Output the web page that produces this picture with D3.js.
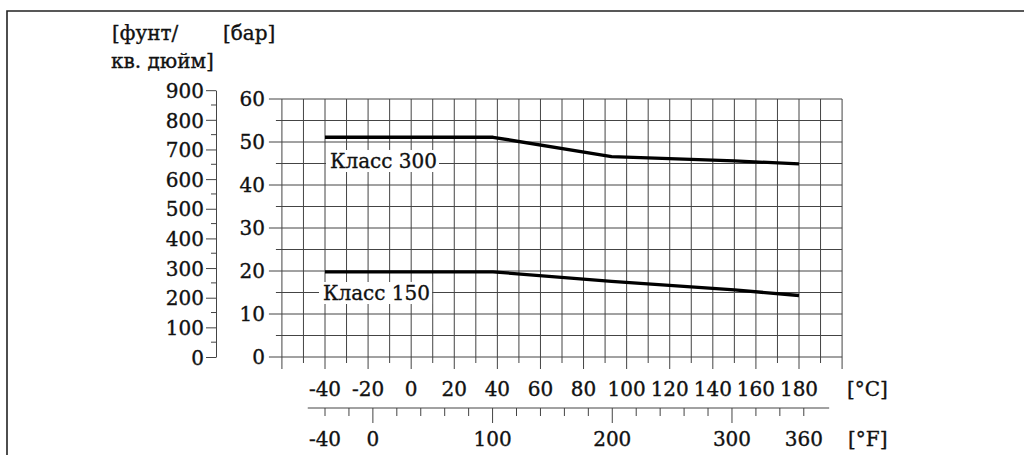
<!DOCTYPE html>
<html>
<head>
<meta charset="utf-8">
<script src="https://cdn.jsdelivr.net/npm/d3@7"></script>
<style>
  html, body { margin: 0; padding: 0; background: #fff; }
  svg { display: block; }
  text { font-family: "DejaVu Serif", serif; font-size: 20px; fill: #111; stroke: #111; stroke-width: 0.35px; }
</style>
</head>
<body>
<svg id="chart" width="1024" height="455"></svg>
<script>
// data (temperature in °C, pressure in bar)
const class300Temp = [-40, 38, 93, 150, 180];
const class300Bar  = [51.1, 51.1, 46.6, 45.6, 44.9];
const class150Temp = [-40, 38, 93, 150, 180];
const class150Bar  = [19.8, 19.8, 17.6, 15.6, 14.3];

const seriesLabels = ["Класс 300", "Класс 150"];

const celsiusLabels    = [-40, -20, 0, 20, 40, 60, 80, 100, 120, 140, 160, 180];
const fahrenheitLabels = [-40, 0, 100, 200, 300, 360];
const barLabels        = [0, 10, 20, 30, 40, 50, 60];
const psiLabels        = [0, 100, 200, 300, 400, 500, 600, 700, 800, 900];

const PSI_PER_BAR = 14.5038;
const fToC = f => (f - 32) * 5 / 9;

const svg = d3.select("#chart");

// scales
const xC = d3.scaleLinear().domain([-40, 180]).range([325, 799]);
const yBar = d3.scaleLinear().domain([0, 60]).range([357, 99]);
const yPsi = d3.scaleLinear().domain([0, 900])
  .range([yBar(0), yBar(900 / PSI_PER_BAR)]);
const xF = d3.scaleLinear().domain([-40, 360])
  .range([xC(fToC(-40)), xC(fToC(360))]);

// frame
svg.append("path")
  .attr("d", "M7,455V11H1024")
  .attr("fill", "none")
  .attr("stroke", "#222")
  .attr("stroke-width", 1.6);

// grid
const grid = svg.append("g").attr("stroke", "#444").attr("stroke-width", 1);
d3.range(-60, 201, 10).forEach(t => {
  const major = t % 20 === 0;
  grid.append("line")
    .attr("x1", xC(t)).attr("x2", xC(t))
    .attr("y1", yBar(60)).attr("y2", yBar(0) + (major ? 12 : 6));
});
d3.range(0, 61, 5).forEach(b => {
  const major = b % 10 === 0;
  grid.append("line")
    .attr("x1", xC(-60) - (major ? 13 : 6)).attr("x2", xC(200))
    .attr("y1", yBar(b)).attr("y2", yBar(b));
});

// bar tick labels
svg.append("g").selectAll("text")
  .data(barLabels)
  .join("text")
  .attr("x", 265)
  .attr("y", d => yBar(d))
  .attr("dy", "0.36em")
  .attr("text-anchor", "end")
  .text(d => d);

// psi axis
const psiAxis = svg.append("g")
  .attr("transform", "translate(216,0)")
  .call(d3.axisLeft(yPsi).tickValues(psiLabels).tickSize(10).tickSizeOuter(0).tickPadding(2));
psiAxis.selectAll("text").attr("font-size", null).attr("font-family", null).attr("fill", null).attr("dy", "0.36em");
psiAxis.attr("font-size", null).attr("font-family", null);
psiAxis.selectAll("path, line").attr("stroke", "#444");
psiAxis.append("g").selectAll("line")
  .data(d3.range(50, 900, 100))
  .join("line")
  .attr("x1", -5).attr("x2", 0)
  .attr("y1", d => yPsi(d)).attr("y2", d => yPsi(d))
  .attr("stroke", "#444");

// celsius labels
svg.append("g").selectAll("text")
  .data(celsiusLabels)
  .join("text")
  .attr("x", d => xC(d))
  .attr("y", 396)
  .attr("text-anchor", "middle")
  .text(d => d);

// fahrenheit axis
const fY = 408;
svg.append("line")
  .attr("x1", xC(-48)).attr("x2", xC(194))
  .attr("y1", fY).attr("y2", fY)
  .attr("stroke", "#444");
svg.append("g").selectAll("line")
  .data(d3.range(-40, 361, 20))
  .join("line")
  .attr("x1", d => xF(d)).attr("x2", d => xF(d))
  .attr("y1", fY)
  .attr("y2", d => fY + (d % 100 === 0 ? 15 : 8))
  .attr("stroke", "#444");
svg.append("g").selectAll("text")
  .data(fahrenheitLabels)
  .join("text")
  .attr("x", d => xF(d))
  .attr("y", 446)
  .attr("text-anchor", "middle")
  .text(d => d);

// unit labels
svg.append("text").attr("x", 847).attr("y", 396).text("[°C]");
svg.append("text").attr("x", 848).attr("y", 446).text("[°F]");
svg.append("text").attr("x", 112).attr("y", 40).text("[фунт/");
svg.append("text").attr("x", 111).attr("y", 68).text("кв. дюйм]");
svg.append("text").attr("x", 223).attr("y", 40).text("[бар]");

// pressure curves
const line = d3.line()
  .x(d => xC(d[0]))
  .y(d => yBar(d[1]));

const curves = [
  { pts: d3.zip(class300Temp, class300Bar), label: seriesLabels[0], lx: 330, ly: 168 },
  { pts: d3.zip(class150Temp, class150Bar), label: seriesLabels[1], lx: 323, ly: 300 }
];

curves.forEach(c => {
  svg.append("path")
    .datum(c.pts)
    .attr("d", line)
    .attr("fill", "none")
    .attr("stroke", "#000")
    .attr("stroke-width", 3.3)
    .attr("stroke-linejoin", "round");

  const t = svg.append("text")
    .attr("x", c.lx).attr("y", c.ly)
    .text(c.label);
  const bb = t.node().getBBox();
  svg.insert("rect", () => t.node())
    .attr("x", bb.x - 4).attr("y", bb.y + 1)
    .attr("width", bb.width + 6).attr("height", bb.height - 2)
    .attr("fill", "#fff");
});
</script>
</body>
</html>
